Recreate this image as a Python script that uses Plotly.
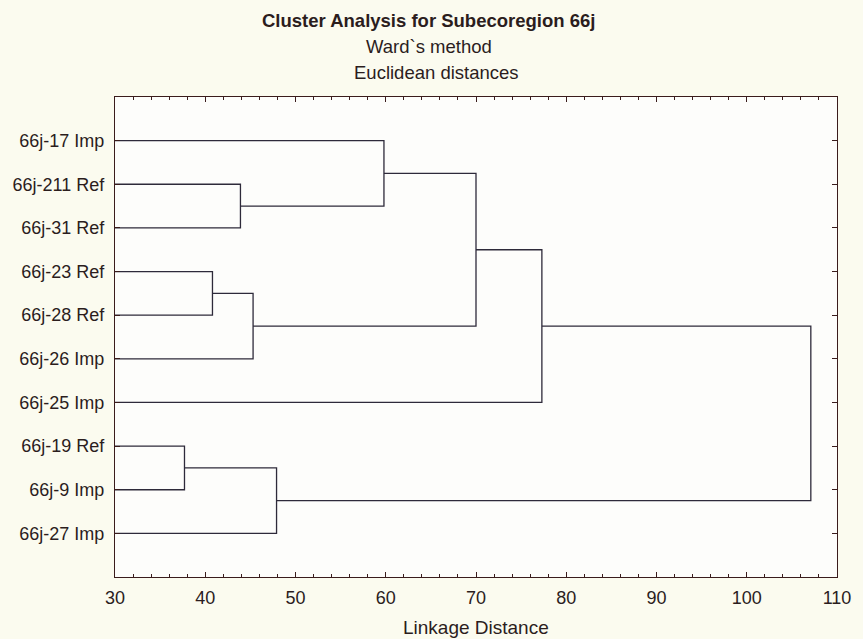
import plotly.graph_objects as go

# Leaves of the dendrogram, listed top to bottom
leaf_labels = ["66j-17 Imp", "66j-211 Ref", "66j-31 Ref", "66j-23 Ref", "66j-28 Ref",
               "66j-26 Imp", "66j-25 Imp", "66j-19 Ref", "66j-9 Imp", "66j-27 Imp"]

# Agglomeration steps: node ids 0..9 are leaves, each step creates node 10, 11, ...
merge_left = [1, 0, 3, 12, 11, 14, 7, 16, 15]
merge_right = [2, 10, 4, 5, 13, 6, 8, 9, 17]
merge_dist = [43.9, 59.8, 40.8, 45.3, 70.0, 77.3, 37.7, 47.9, 107.1]

x_ticks = [30, 40, 50, 60, 70, 80, 90, 100, 110]
x_min, x_max = x_ticks[0], x_ticks[-1]

# node position: (distance, row)
pos = {i: (x_min, i + 1) for i in range(len(leaf_labels))}
xs, ys = [], []
for k, (a, b, d) in enumerate(zip(merge_left, merge_right, merge_dist)):
    xa, ya = pos[a]
    xb, yb = pos[b]
    xs += [xa, d, d, xb, None]
    ys += [ya, ya, yb, yb, None]
    pos[len(leaf_labels) + k] = (d, (ya + yb) / 2)

ink = "#2e2a3a"
frame = "#3a1c1c"
txt = "#2b1d1d"
font_family = "Arial, Liberation Sans, sans-serif"

fig = go.Figure()
fig.add_trace(go.Scatter(x=xs, y=ys, mode="lines",
                         line=dict(color=ink, width=1.3),
                         hoverinfo="skip", showlegend=False))

W, H = 863, 639
L, R, T, B = 115, 20, 97, 62
pw, ph = W - L - R, H - T - B


def py(p):
    return (H - B - p) / ph


def px(p):
    return (p - L) / pw


# headings are centred on the page, the axis title on the plot area
page_mid = px(W / 2)

fig.update_layout(
    width=W, height=H,
    margin=dict(l=L, r=R, t=T, b=B),
    paper_bgcolor="#FBFBEF",
    plot_bgcolor="#FDFDFB",
    font=dict(family=font_family, color=txt, size=18),
    xaxis=dict(range=[x_min, x_max], tickvals=x_ticks, ticks="inside", ticklen=5,
               tickcolor=frame, showline=True, linecolor=frame, linewidth=1.2,
               mirror="allticks", showgrid=False, zeroline=False,
               tickfont=dict(size=18), ticklabelstandoff=4,
               minor=dict(dtick=2, ticks="inside", ticklen=3, tickcolor=frame, showgrid=False)),
    yaxis=dict(range=[len(leaf_labels) + 1, 0],
               tickvals=list(range(1, len(leaf_labels) + 1)), ticktext=leaf_labels,
               ticks="inside", ticklen=5, tickcolor=frame, showline=True,
               linecolor=frame, linewidth=1.2, mirror="allticks", showgrid=False,
               zeroline=False, tickfont=dict(size=18), ticklabelstandoff=6),
    annotations=[
        dict(text="<b>Cluster Analysis for Subecoregion 66j</b>", x=page_mid, y=py(21),
             xref="paper", yref="paper", showarrow=False, font=dict(size=18.5),
             xanchor="center", yanchor="middle"),
        dict(text="Ward`s method", x=page_mid, y=py(47), xref="paper", yref="paper",
             showarrow=False, font=dict(size=18.5), xanchor="center", yanchor="middle"),
        dict(text="Euclidean distances", x=page_mid + 0.01, y=py(72), xref="paper",
             yref="paper", showarrow=False, font=dict(size=18.5),
             xanchor="center", yanchor="middle"),
        dict(text="Linkage Distance", x=0.5, y=py(627), xref="paper", yref="paper",
             showarrow=False, font=dict(size=19), xanchor="center", yanchor="middle"),
    ],
)

fig.write_html("out.html")
